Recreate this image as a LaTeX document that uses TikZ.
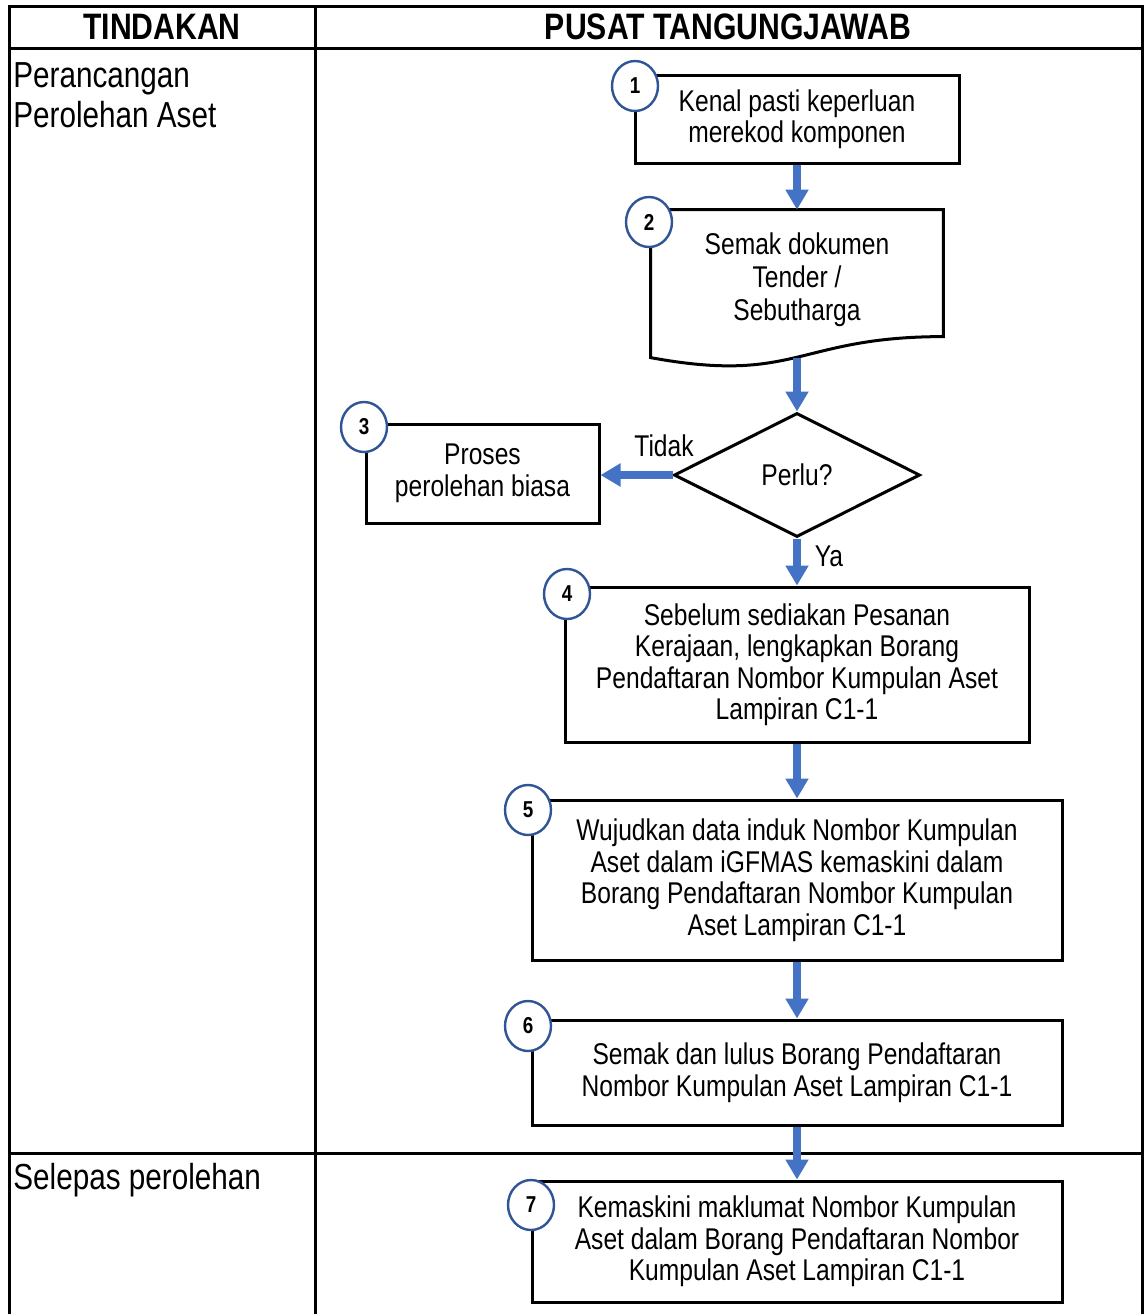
\documentclass[tikz,border=0pt]{standalone}
\usepackage{fontspec}
\setmainfont{Liberation Sans}[FakeStretch=0.82]
\usetikzlibrary{shapes.geometric,arrows.meta,calc}
\definecolor{flowblue}{HTML}{4472C4}
\definecolor{ringblue}{HTML}{2F5597}

\begin{document}
\begin{tikzpicture}[x=0.5pt,y=-0.5pt,
  rule/.style={line width=1.5pt},
  stepbox/.style={draw, rectangle, line width=1.5pt, inner sep=0pt, align=center,
    font=\fontsize{15}{15.75}\selectfont},
  plaintext/.style={inner sep=0pt, align=center, font=\fontsize{15}{15.75}\selectfont},
  numring/.style={draw=ringblue, ellipse, line width=1.2pt, fill=white, inner sep=0pt,
    minimum width=23pt, minimum height=25pt, font=\bfseries\fontsize{11.5}{12}\selectfont},
  headtext/.style={inner sep=0pt, font=\bfseries\fontsize{18.4}{20}\selectfont},
  sidetext/.style={inner sep=0pt, align=left, anchor=west, font=\fontsize{18.1}{20}\selectfont},
  flow/.style={draw=flowblue, line width=4pt, -{Triangle[width=11pt,length=10pt]}}
]
\useasboundingbox (0,0) rectangle (1145,1314);

% table frame
\draw[rule] (9,1314) -- (9,6) -- (1142,6) -- (1142,1314);
\draw[rule] (9,48) -- (1142,48);
\draw[rule] (315,6) -- (315,1314);
\draw[rule] (9,1153) -- (1142,1153);

% headings and stage labels
\node[headtext] (h1) at (162,27) {TINDAKAN};
\node[headtext] (h2) at (728,27) {PUSAT TANGUNGJAWAB};
\node[sidetext] (s1) at (13,95) {Perancangan\\Perolehan Aset};
\node[sidetext] (s2) at (13,1180) {Selepas perolehan};

% process steps
\node[stepbox, minimum width=162pt, minimum height=44pt] (b1) at (797,119)
  {Kenal pasti keperluan\\merekod komponen};

\node[inner sep=0pt, minimum width=146pt, minimum height=79pt] (b2) at (797,289) {};
\draw[line width=1.5pt] (b2.north west) -- (b2.north east) -- ($(b2.north east)+(0,127)$)
  .. controls ($(b2.north)+(0,127)$) and ($(b2.north)+(0,175)$) .. ($(b2.north west)+(0,148)$)
  -- cycle;
\coordinate (b2bot) at ($(b2.north)+(0,148)$);
\node[plaintext, font=\fontsize{15}{16.5}\selectfont] (b2t) at (797,280)
  {Semak dokumen\\Tender /\\Sebutharga};

\node[draw, diamond, aspect=2, line width=1.5pt, inner sep=0pt,
  minimum width=123pt, minimum height=62pt, font=\fontsize{15}{15.75}\selectfont]
  (dia) at (797,475) {Perlu?};

\node[stepbox, minimum width=116.5pt, minimum height=49.5pt] (b3) at (482.5,473.5)
  {Proses\\perolehan biasa};

\node[stepbox, minimum width=232pt, minimum height=77.5pt] (b4) at (797,664.5)
  {Sebelum sediakan Pesanan\\Kerajaan, lengkapkan Borang\\Pendaftaran Nombor Kumpulan Aset\\Lampiran C1-1};

\node[stepbox, minimum width=265pt, minimum height=80pt] (b5) at (797,880)
  {Wujudkan data induk Nombor Kumpulan\\Aset dalam iGFMAS kemaskini dalam\\Borang Pendaftaran Nombor Kumpulan\\Aset Lampiran C1-1};

\node[stepbox, minimum width=265pt, minimum height=52.5pt] (b6) at (797,1072.5)
  {Semak dan lulus Borang Pendaftaran\\Nombor Kumpulan Aset Lampiran C1-1};

\node[stepbox, minimum width=265pt, minimum height=60.5pt] (b7) at (797,1241.5)
  {Kemaskini maklumat Nombor Kumpulan\\Aset dalam Borang Pendaftaran Nombor\\Kumpulan Aset Lampiran C1-1};

% step numbers
\node[numring] (n1) at (635,86) {1};
\node[numring] (n2) at (649,222) {2};
\node[numring] (n3) at (364,427) {3};
\node[numring] (n4) at (567,594) {4};
\node[numring] (n5) at (528,810) {5};
\node[numring] (n6) at (528,1026) {6};
\node[numring] (n7) at (531,1205) {7};

% connectors
\draw[flow] (b1.south) -- (b2.north);
\draw[flow] (b2bot) -- (dia.north);
\draw[flow] (dia.west) -- (dia.west -| b3.east);
\draw[flow] (dia.south) -- (b4.north);
\draw[flow] (b4.south) -- (b5.north);
\draw[flow] (b5.south) -- (b6.north);
\draw[flow] (b6.south) -- (b7.north);

\node[plaintext] (tidak) at (664,446) {Tidak};
\node[plaintext] (ya) at (829,556) {Ya};
\end{tikzpicture}
\end{document}
